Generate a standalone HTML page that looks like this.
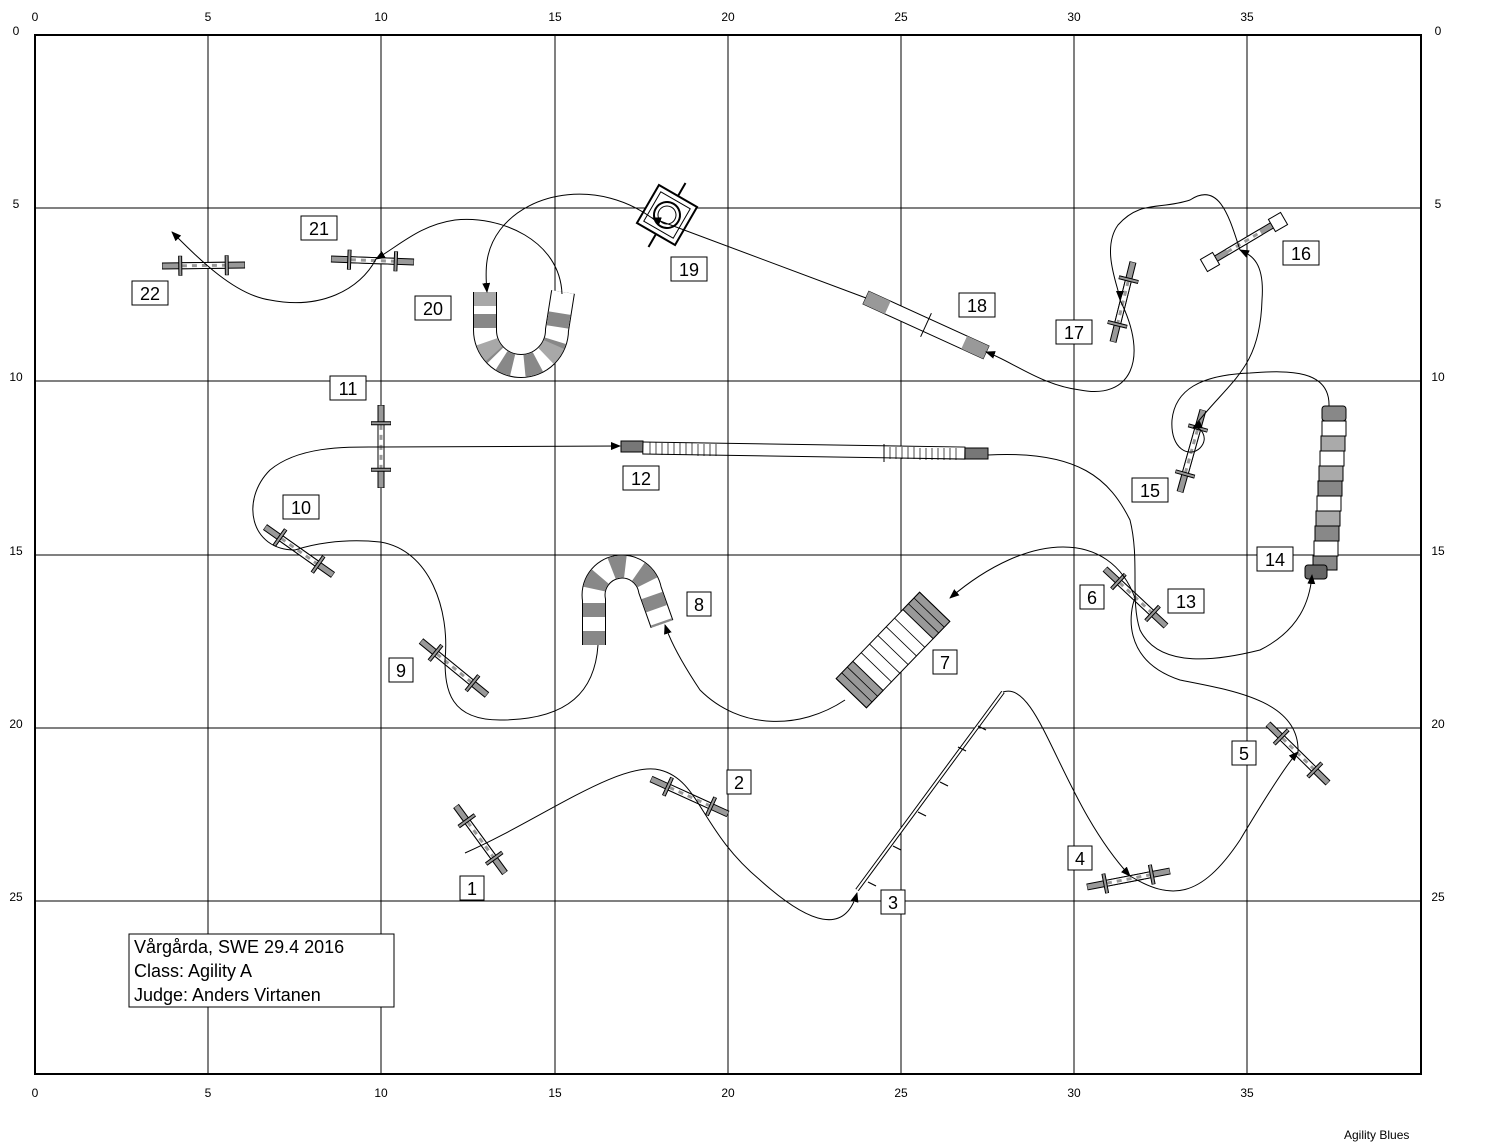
<!DOCTYPE html>
<html><head><meta charset="utf-8"><style>
html,body{margin:0;padding:0;background:#fff}
svg{display:block}
text{font-family:"Liberation Sans",Arial,sans-serif}
</style></head><body>
<svg id="s" width="1500" height="1143" viewBox="0 0 1500 1143" xmlns="http://www.w3.org/2000/svg">
<defs>
<marker id="ar" markerWidth="10" markerHeight="8" refX="9" refY="4" orient="auto" markerUnits="userSpaceOnUse"><path d="M0,0 L10,4 L0,8 Z" fill="#000"/></marker>
</defs>
<rect x="35" y="35" width="1386" height="1039" fill="#fff" stroke="#000" stroke-width="2"/>
<g stroke="#000" stroke-width="1">
<line x1="208" y1="35" x2="208" y2="1074"/><line x1="381" y1="35" x2="381" y2="1074"/>
<line x1="555" y1="35" x2="555" y2="1074"/><line x1="728" y1="35" x2="728" y2="1074"/>
<line x1="901" y1="35" x2="901" y2="1074"/><line x1="1074" y1="35" x2="1074" y2="1074"/>
<line x1="1247" y1="35" x2="1247" y2="1074"/>
<line x1="35" y1="208" x2="1421" y2="208"/><line x1="35" y1="381" x2="1421" y2="381"/>
<line x1="35" y1="555" x2="1421" y2="555"/><line x1="35" y1="728" x2="1421" y2="728"/>
<line x1="35" y1="901" x2="1421" y2="901"/>
</g>
<g font-size="12" text-anchor="middle">
<text x="35" y="21">0</text><text x="208" y="21">5</text><text x="381" y="21">10</text><text x="555" y="21">15</text><text x="728" y="21">20</text><text x="901" y="21">25</text><text x="1074" y="21">30</text><text x="1247" y="21">35</text>
<text x="35" y="1097">0</text><text x="208" y="1097">5</text><text x="381" y="1097">10</text><text x="555" y="1097">15</text><text x="728" y="1097">20</text><text x="901" y="1097">25</text><text x="1074" y="1097">30</text><text x="1247" y="1097">35</text>
<text x="16" y="35">0</text><text x="16" y="208">5</text><text x="16" y="381">10</text><text x="16" y="555">15</text><text x="16" y="728">20</text><text x="16" y="901">25</text>
<text x="1438" y="35">0</text><text x="1438" y="208">5</text><text x="1438" y="381">10</text><text x="1438" y="555">15</text><text x="1438" y="728">20</text><text x="1438" y="901">25</text>
</g>
<text x="1344" y="1139" font-size="12">Agility Blues</text>

<g id="jumps"></g>
<rect x="1203" y="255" width="14" height="14" fill="#fff" stroke="#000" transform="rotate(-30 1210 262)"/>
<rect x="1271" y="215" width="14" height="14" fill="#fff" stroke="#000" transform="rotate(-30 1278 222)"/>

<!-- dog walk 3 -->
<line x1="857" y1="890" x2="1003" y2="692" stroke="#000" stroke-width="4"/>
<line x1="857" y1="890" x2="1003" y2="692" stroke="#fff" stroke-width="2"/>
<g stroke="#000" stroke-width="1.2">
<line x1="868" y1="882" x2="876" y2="886"/><line x1="893" y1="846" x2="901" y2="850"/><line x1="918" y1="812" x2="926" y2="816"/>
<line x1="940" y1="782" x2="948" y2="786"/><line x1="958" y1="747" x2="966" y2="751"/><line x1="978" y1="726" x2="986" y2="730"/>
</g>

<!-- tunnel 12 -->
<rect x="621" y="441" width="22" height="11" fill="#777" stroke="#000"/>
<rect x="643" y="442" width="322" height="12" fill="#fff" stroke="#000" transform="rotate(0.9 643 442)"/>
<rect x="965" y="448" width="23" height="11" fill="#777" stroke="#000"/>
<line x1="728" y1="439" x2="728" y2="458" stroke="#000"/><line x1="884" y1="444" x2="884" y2="462" stroke="#000"/>
<g stroke="#000" stroke-width="0.7">
<path d="M650 442v12M656 442v12M662 443v12M668 443v12M674 443v12M680 443v12M686 443v12M692 443v12M698 444v12M704 444v12M710 444v12M716 444v12M890 447v12M896 447v12M902 447v12M908 447v12M914 447v12M920 448v12M926 448v12M932 448v12M938 448v12M944 448v12M950 448v12M956 448v12"/>
</g>

<!-- tunnel 14 -->
<g stroke="#000" fill="#888">
<rect x="1322" y="406" width="24" height="15" rx="3"/><rect x="1322" y="421" width="24" height="15" fill="#fff"/>
<rect x="1321" y="436" width="24" height="15" fill="#aaa"/><rect x="1320" y="451" width="24" height="15" fill="#fff"/>
<rect x="1319" y="466" width="24" height="15" fill="#aaa"/><rect x="1318" y="481" width="24" height="15" fill="#888"/>
<rect x="1317" y="496" width="24" height="15" fill="#fff"/><rect x="1316" y="511" width="24" height="15" fill="#aaa"/>
<rect x="1315" y="526" width="24" height="15" fill="#888"/><rect x="1314" y="541" width="24" height="15" fill="#fff"/>
<rect x="1313" y="556" width="24" height="14" fill="#888"/><rect x="1305" y="565" width="22" height="14" rx="3" fill="#666"/>
</g>
<!-- tunnel 20 (U) -->
<g fill="none">
<path d="M485 292 L485 330 A36 36 0 0 0 557 330 L563 292" stroke="#000" stroke-width="24"/>
<path d="M485 292 L485 330 A36 36 0 0 0 557 330 L563 292" stroke="#fff" stroke-width="22"/>
<path d="M485 292 L485 330 A36 36 0 0 0 557 330 L563 292" stroke="#888" stroke-width="22" stroke-dasharray="0 22 14 16 14 8 12 12 14 14 14 14 14 14"/>
<path d="M485 292 L485 330 A36 36 0 0 0 557 330 L563 292" stroke="#a8a8a8" stroke-width="22" stroke-dasharray="14 36 14 58 14 100"/>
</g>
<!-- tunnel 8 -->
<g fill="none">
<path d="M594 645 L594 600 A28 28 0 0 1 650 590 L662 624" stroke="#000" stroke-width="24"/>
<path d="M594 645 L594 600 A28 28 0 0 1 650 590 L662 624" stroke="#fff" stroke-width="22"/>
<path d="M594 645 L594 600 A28 28 0 0 1 650 590 L662 624" stroke="#888" stroke-width="22" stroke-dasharray="14 14 14 14 14 14 14 14 14 14 14 14"/>
</g>

<!-- A-frame 7 -->
<g transform="rotate(-46 893 650)">
<rect x="833" y="629" width="120" height="42" fill="#fff" stroke="#000"/>
<rect x="833" y="629" width="24" height="42" fill="#999" stroke="#000"/>
<rect x="929" y="629" width="24" height="42" fill="#999" stroke="#000"/>
<path d="M841 629v42M849 629v42M937 629v42M945 629v42M869 629v42M881 629v42M893 629v42M905 629v42M917 629v42" stroke="#000" stroke-width="0.8"/>
</g>
<!-- seesaw 18 -->
<g transform="rotate(24.5 926 325)">
<rect x="860" y="318" width="132" height="14" fill="#fff" stroke="#000"/>
<rect x="860" y="318" width="24" height="14" fill="#999"/><rect x="968" y="318" width="24" height="14" fill="#999"/>
<line x1="926" y1="312" x2="926" y2="338" stroke="#000"/>
</g>
<!-- tire 19 -->
<g transform="rotate(30 667 215)">
<rect x="645" y="193" width="44" height="44" fill="#fff" stroke="#000" stroke-width="2"/>
<rect x="650" y="198" width="34" height="34" fill="none" stroke="#000" stroke-width="1"/>
<circle cx="667" cy="215" r="13" fill="none" stroke="#000" stroke-width="2"/>
<circle cx="667" cy="215" r="9" fill="none" stroke="#000"/>
<line x1="667" y1="178" x2="667" y2="193" stroke="#000" stroke-width="2"/><line x1="667" y1="237" x2="667" y2="252" stroke="#000" stroke-width="2"/>
</g>

<!-- course path -->
<g fill="none" stroke="#000" stroke-width="1">
<path d="M465 853 C540 820 620 760 660 770 C700 780 700 830 760 880 C810 925 845 935 857 893" marker-end="url(#ar)"/>
<path d="M1003 692 C1040 680 1060 800 1130 876" marker-end="url(#ar)"/>
<path d="M1130 876 C1170 900 1200 900 1240 840 C1270 790 1290 760 1298 752" marker-end="url(#ar)"/>
<path d="M1298 752 C1300 700 1230 690 1180 680 C1120 660 1130 610 1135 598" />
<path d="M1135 598 C1110 530 1030 530 950 598" marker-end="url(#ar)"/>
<path d="M845 700 C800 730 740 730 700 690 C680 660 670 640 665 625" marker-end="url(#ar)"/>
<path d="M598 645 C595 690 570 720 500 720 C450 720 445 690 445 660 C450 610 430 550 380 542 C340 538 310 545 295 550" />
<path d="M295 550 C250 550 240 500 270 470 C300 445 350 447 381 447 L620 446" marker-end="url(#ar)"/>
<path d="M988 455 C1080 450 1110 480 1130 520 C1140 560 1130 600 1140 630 C1160 670 1220 660 1260 650 C1300 630 1310 600 1312 575" marker-end="url(#ar)"/>
<path d="M1329 406 C1330 370 1290 370 1250 373 C1200 375 1175 390 1172 420 C1170 450 1190 458 1200 448 C1210 438 1200 425 1193 428" marker-end="url(#ar)"/>
<path d="M1193 428 C1230 380 1260 370 1262 300 C1265 260 1250 255 1240 250" marker-end="url(#ar)"/>
<path d="M1240 250 C1230 220 1220 180 1190 200 C1160 210 1140 200 1118 225 C1100 250 1120 290 1120 300" marker-end="url(#ar)"/>
<path d="M1120 300 C1150 360 1130 400 1080 390 C1040 385 1010 360 986 352" marker-end="url(#ar)"/>
<path d="M866 298 L652 218" marker-end="url(#ar)"/>
<path d="M652 218 C600 180 530 190 500 230 C485 250 485 270 487 292" marker-end="url(#ar)"/>
<path d="M562 294 C560 240 500 215 455 220 C420 225 400 245 376 259" marker-end="url(#ar)"/>
<path d="M376 259 C360 290 320 310 270 300 C235 295 200 260 172 232" marker-end="url(#ar)"/>
</g>

<!-- labels -->
<g font-size="18" text-anchor="middle">
<rect x="460" y="876" width="24" height="24" fill="#fff" stroke="#000"/><text x="472" y="895">1</text>
<rect x="727" y="770" width="24" height="24" fill="#fff" stroke="#000"/><text x="739" y="789">2</text>
<rect x="881" y="890" width="24" height="24" fill="#fff" stroke="#000"/><text x="893" y="909">3</text>
<rect x="1068" y="846" width="24" height="24" fill="#fff" stroke="#000"/><text x="1080" y="865">4</text>
<rect x="1232" y="741" width="24" height="24" fill="#fff" stroke="#000"/><text x="1244" y="760">5</text>
<rect x="1080" y="585" width="24" height="24" fill="#fff" stroke="#000"/><text x="1092" y="604">6</text>
<rect x="933" y="650" width="24" height="24" fill="#fff" stroke="#000"/><text x="945" y="669">7</text>
<rect x="687" y="592" width="24" height="24" fill="#fff" stroke="#000"/><text x="699" y="611">8</text>
<rect x="389" y="658" width="24" height="24" fill="#fff" stroke="#000"/><text x="401" y="677">9</text>
<rect x="283" y="495" width="36" height="24" fill="#fff" stroke="#000"/><text x="301" y="514">10</text>
<rect x="330" y="376" width="36" height="24" fill="#fff" stroke="#000"/><text x="348" y="395">11</text>
<rect x="623" y="466" width="36" height="24" fill="#fff" stroke="#000"/><text x="641" y="485">12</text>
<rect x="1168" y="589" width="36" height="24" fill="#fff" stroke="#000"/><text x="1186" y="608">13</text>
<rect x="1257" y="547" width="36" height="24" fill="#fff" stroke="#000"/><text x="1275" y="566">14</text>
<rect x="1132" y="478" width="36" height="24" fill="#fff" stroke="#000"/><text x="1150" y="497">15</text>
<rect x="1283" y="241" width="36" height="24" fill="#fff" stroke="#000"/><text x="1301" y="260">16</text>
<rect x="1056" y="320" width="36" height="24" fill="#fff" stroke="#000"/><text x="1074" y="339">17</text>
<rect x="959" y="293" width="36" height="24" fill="#fff" stroke="#000"/><text x="977" y="312">18</text>
<rect x="671" y="257" width="36" height="24" fill="#fff" stroke="#000"/><text x="689" y="276">19</text>
<rect x="415" y="296" width="36" height="24" fill="#fff" stroke="#000"/><text x="433" y="315">20</text>
<rect x="301" y="216" width="36" height="24" fill="#fff" stroke="#000"/><text x="319" y="235">21</text>
<rect x="132" y="281" width="36" height="24" fill="#fff" stroke="#000"/><text x="150" y="300">22</text>
</g>
<rect x="129" y="934" width="265" height="73" fill="#fff" stroke="#000"/>
<g font-size="18"><text x="134" y="953">Vårgårda, SWE 29.4 2016</text><text x="134" y="977">Class: Agility A</text><text x="134" y="1001">Judge: Anders Virtanen</text></g>
</svg>
<script>
(function(){
var NS="http://www.w3.org/2000/svg",g=document.getElementById("jumps");
function ln(a,b,c,d,col,w,extra){var e=document.createElementNS(NS,"line");e.setAttribute("x1",a);e.setAttribute("y1",b);e.setAttribute("x2",c);e.setAttribute("y2",d);e.setAttribute("stroke",col);e.setAttribute("stroke-width",w);if(extra)e.setAttribute("stroke-dasharray",extra);g.appendChild(e);}
function J(x1,y1,x2,y2,wings){
var dx=x2-x1,dy=y2-y1,L=Math.hypot(dx,dy),ux=dx/L,uy=dy/L,px=-uy,py=ux;
function P(t){return [x1+dx*t,y1+dy*t];}
ln(x1,y1,x2,y2,"#000",7);ln(x1+ux*0.5,y1+uy*0.5,x2-ux*0.5,y2-uy*0.5,"#999",5);
var a=P(0.24),b=P(0.76);
ln(a[0],a[1],b[0],b[1],"#000",7);ln(a[0],a[1],b[0],b[1],"#fff",5);ln(a[0],a[1],b[0],b[1],"#999",3,"5 5");
if(wings!==false){[0.22,0.78].forEach(function(t){var c=P(t);ln(c[0]-px*10,c[1]-py*10,c[0]+px*10,c[1]+py*10,"#000",4);ln(c[0]-px*9.5,c[1]-py*9.5,c[0]+px*9.5,c[1]+py*9.5,"#999",2);});}
}
J(456,806,505,873);J(651,779,728,814);J(1087,887,1170,871);J(1268,724,1328,783);
J(1105,569,1166,626);J(421,641,487,695);J(265,527,333,575);J(381,405,381,488);
J(1203,410,1180,492);J(1133,262,1113,342);J(331,259,414,262);J(162,266,245,265);
J(1212,261,1276,223,false);
})();
</script>
</body></html>
